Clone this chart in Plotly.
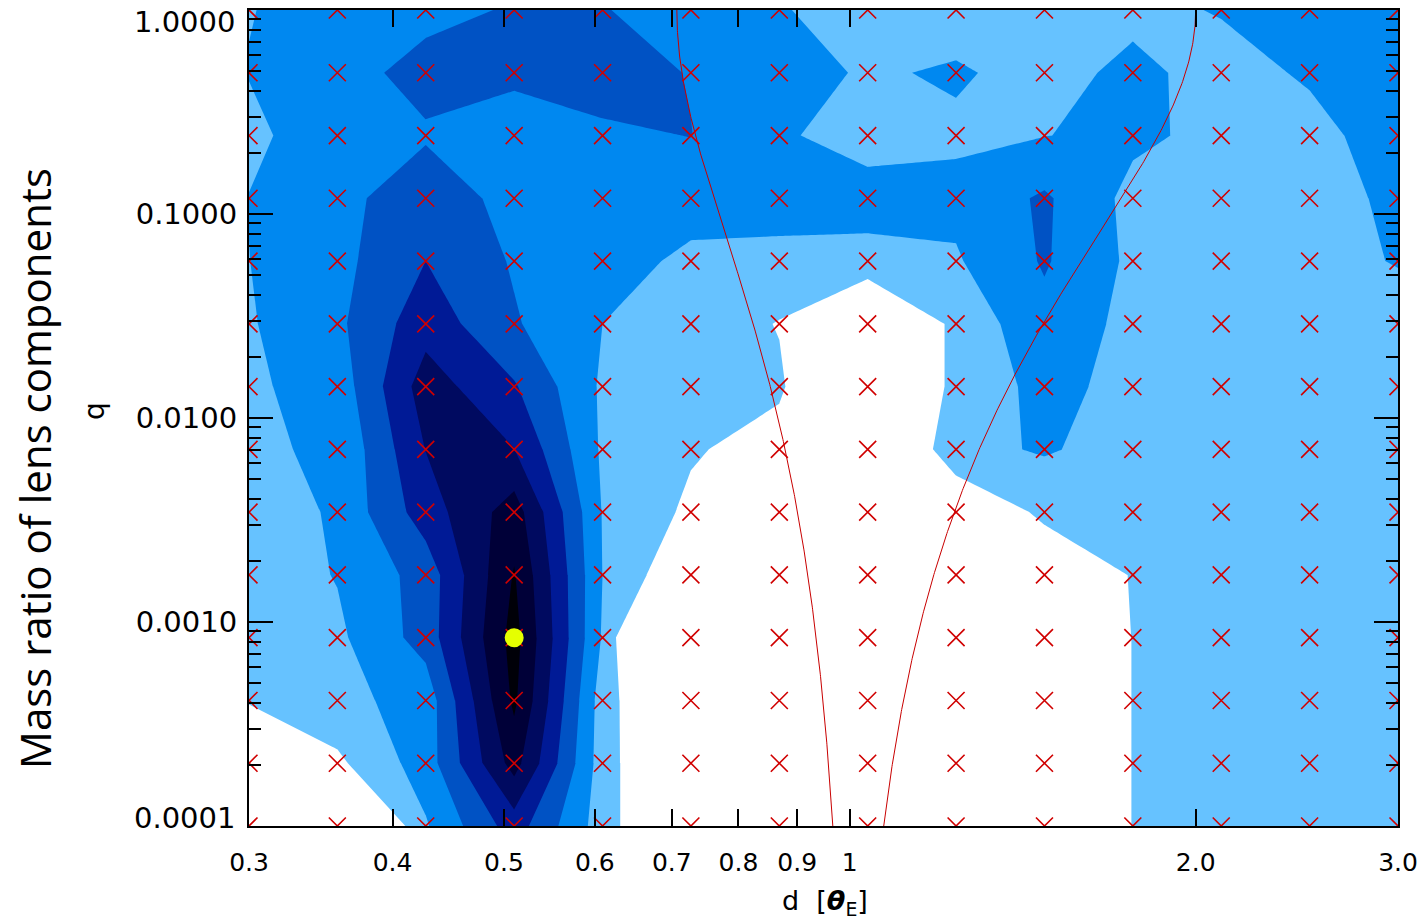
import numpy as np
import plotly.graph_objects as go

# Model grid: lens separation d [theta_E] and mass ratio q
d_grid = [0.3000, 0.3581, 0.4275, 0.5104, 0.6093, 0.7273, 0.8683,
          1.0365, 1.2374, 1.4772, 1.7634, 2.1051, 2.5130, 3.0000]
q_grid = [1.000e-4, 2.031e-4, 4.125e-4, 8.377e-4, 1.701e-3, 3.455e-3, 7.017e-3,
          1.425e-2, 2.894e-2, 5.878e-2, 1.194e-1, 2.424e-1, 4.924e-1, 1.000]

# Significance (sigma) of each grid fit relative to the best fit.
# sigma_rowNN holds the values along d_grid for q = q_grid[NN].
sigma_row00 = [10.0, 10.0, 6.10, 3.50, 6.50, 9.00, 12.0, 12.0, 12.0, 10.0, 6.95, 6.60, 6.50, 6.50]
sigma_row01 = [10.0, 7.20, 5.53, 1.60, 6.50, 9.00, 12.0, 12.0, 12.0, 10.0, 6.95, 6.60, 6.50, 6.50]
sigma_row02 = [6.80, 6.30, 5.60, 0.80, 6.50, 9.10, 12.0, 12.0, 12.0, 10.0, 6.95, 6.60, 6.50, 6.50]
sigma_row03 = [6.70, 6.20, 4.60, 0.60, 6.10, 12.0, 12.0, 12.0, 12.0, 10.0, 6.95, 6.60, 6.50, 6.50]
sigma_row04 = [6.60, 5.95, 4.60, 0.92, 6.00, 8.00, 9.00, 9.00, 9.00, 7.80, 6.95, 6.60, 6.50, 6.50]
sigma_row05 = [6.85, 5.80, 3.50, 1.50, 6.05, 7.20, 9.00, 9.00, 7.98, 6.80, 6.70, 6.60, 6.60, 6.50]
sigma_row06 = [6.10, 5.90, 2.98, 2.98, 6.15, 6.90, 7.40, 9.00, 6.30, 5.90, 6.40, 6.60, 6.60, 6.50]
sigma_row07 = [6.15, 5.60, 2.50, 3.90, 6.15, 6.50, 6.85, 9.00, 6.70, 5.70, 6.30, 6.50, 6.50, 6.40]
sigma_row08 = [6.09, 5.20, 3.40, 4.90, 6.00, 6.40, 7.05, 9.00, 6.70, 5.30, 6.30, 6.50, 6.50, 6.40]
sigma_row09 = [6.01, 5.30, 4.00, 5.10, 5.60, 6.20, 6.30, 6.20, 6.10, 4.90, 6.20, 6.50, 6.30, 5.95]
sigma_row10 = [5.98, 5.40, 4.20, 5.45, 5.60, 5.60, 5.55, 5.75, 5.75, 4.85, 6.30, 6.40, 6.20, 5.90]
sigma_row11 = [6.19, 5.50, 5.14, 5.50, 5.17, 4.98, 5.92, 6.25, 6.15, 6.02, 5.80, 6.27, 6.26, 5.60]
sigma_row12 = [5.97, 5.45, 4.60, 4.80, 4.55, 5.05, 5.65, 6.10, 5.90, 6.30, 5.80, 6.30, 5.90, 5.50]
sigma_row13 = [6.03, 5.68, 5.32, 4.90, 4.95, 5.45, 5.95, 6.30, 6.40, 6.40, 6.20, 5.95, 5.60, 5.50]

# Best-fit model
best_d = [0.5104]
best_q = [8.377e-4]

# Contour levels (1..7 sigma) and the fill colour of each band, darkest first
sigma_levels = [1, 2, 3, 4, 5, 6, 7]
band_colors = ["#000008", "#000038", "#000A60", "#001A96",
               "#0052C4", "#0088F0", "#66C2FF", "#FFFFFF"]

x_tickvals = [0.3, 0.4, 0.5, 0.6, 0.7, 0.8, 0.9, 1.0, 2.0, 3.0]
x_ticktext = ["0.3", "0.4", "0.5", "0.6", "0.7", "0.8", "0.9", "1", "2.0", "3.0"]
y_tickvals = [1e-4, 1e-3, 1e-2, 1e-1, 1.0]
y_ticktext = ["0.0001", "0.0010", "0.0100", "0.1000", "1.0000"]

sigma = np.array([sigma_row00, sigma_row01, sigma_row02, sigma_row03, sigma_row04,
                  sigma_row05, sigma_row06, sigma_row07, sigma_row08, sigma_row09,
                  sigma_row10, sigma_row11, sigma_row12, sigma_row13])

n_band = len(band_colors) - 1
colorscale = [[k / n_band, c] for k, c in enumerate(band_colors)]

# Caustic topology boundaries of a binary lens (close/intermediate and intermediate/wide)
q_curve = np.logspace(-4, 0, 400)
m = q_curve / (1 + q_curve) ** 2
lo = np.full_like(q_curve, 0.3)
hi = np.full_like(q_curve, 1.0)
for _ in range(80):
    mid = 0.5 * (lo + hi)
    f = (1 - mid ** 4) ** 3 / (27 * mid ** 8) - m
    lo = np.where(f > 0, mid, lo)
    hi = np.where(f > 0, hi, mid)
d_close = 0.5 * (lo + hi)
d_wide = np.sqrt((1 + q_curve ** (1 / 3)) ** 3 / (1 + q_curve))

fig = go.Figure()

fig.add_trace(go.Contour(
    x=d_grid, y=q_grid, z=sigma,
    autocontour=False,
    contours=dict(start=sigma_levels[0], end=sigma_levels[-1], size=1,
                  coloring="fill", showlines=False),
    line=dict(width=0, smoothing=0),
    colorscale=colorscale, showscale=False, hoverinfo="skip",
))

for dc in (d_close, d_wide):
    fig.add_trace(go.Scatter(x=dc, y=q_curve, mode="lines",
                             line=dict(color="#C80000", width=1), hoverinfo="skip"))

gx, gy = np.meshgrid(d_grid, q_grid)
fig.add_trace(go.Scatter(
    x=gx.ravel(), y=gy.ravel(), mode="markers",
    marker=dict(symbol="x-thin", size=17, line=dict(color="#D00000", width=1.6)),
    hoverinfo="skip",
))

fig.add_trace(go.Scatter(
    x=best_d, y=best_q, mode="markers",
    marker=dict(size=19, color="#E5FF00", line=dict(width=0)),
    hoverinfo="skip",
))

# invisible carrier for the minor-tick axes
fig.add_trace(go.Scatter(x=[1.0], y=[0.01], xaxis="x2", yaxis="y2", mode="markers",
                         marker=dict(opacity=0), hoverinfo="skip"))

x_minor = [0.4, 0.5, 0.6, 0.7, 0.8, 0.9, 2.0]
y_minor = [k * 10.0 ** e for e in range(-4, 0) for k in range(2, 10)]

xr = [np.log10(0.3), np.log10(3.0)]
yr = [-4, 0]

tick_font_y = dict(family="DejaVu Sans", size=29, color="black")

# the two end labels of the q axis sit just inside the frame, as annotations;
# the inner decades are ordinary tick labels
end_label_shift = {1.0: -12, 1e-4: 8}
y_axis_vals = [v for v in y_tickvals if v not in end_label_shift]
y_axis_text = [t for v, t in zip(y_tickvals, y_ticktext) if v not in end_label_shift]

annotations = [
    dict(text="d  [<b><i>θ</i></b><sub>E</sub>]", xref="paper", yref="paper",
         x=0.501, y=-0.094, xanchor="center", yanchor="middle", showarrow=False,
         font=dict(family="DejaVu Sans", size=27, color="black")),
    dict(text="q", xref="paper", yref="paper", x=-0.134, y=0.5086,
         xanchor="center", yanchor="middle", textangle=-90, showarrow=False,
         font=dict(family="DejaVu Sans", size=28, color="black")),
    dict(text="Mass ratio of lens components", xref="paper", yref="paper",
         x=-0.1862, y=0.4377, xanchor="center", yanchor="middle", textangle=-90,
         showarrow=False, font=dict(family="Open Sans", size=42, color="black")),
]
for v, t in zip(y_tickvals, y_ticktext):
    if v in end_label_shift:
        annotations.append(dict(
            text=t, xref="paper", yref="y", x=0, y=np.log10(v),
            xanchor="right", yanchor="middle", xshift=-12, yshift=end_label_shift[v],
            showarrow=False, font=tick_font_y))

fig.update_layout(
    width=1427, height=922,
    margin=dict(l=249, r=29, t=8, b=96),
    paper_bgcolor="white", plot_bgcolor="white",
    showlegend=False,
    xaxis=dict(type="log", range=xr, tickvals=x_tickvals, ticktext=x_ticktext,
               ticks="inside", ticklen=17, tickwidth=2, tickcolor="black",
               showline=True, linewidth=2, linecolor="black", mirror="ticks",
               showgrid=False, zeroline=False, ticklabelstandoff=13,
               tickfont=dict(family="DejaVu Sans", size=25, color="black")),
    xaxis2=dict(type="log", range=xr, overlaying="x", anchor="y", side="bottom",
                tickvals=x_minor, ticks="inside", ticklen=8, tickwidth=2,
                tickcolor="black", showticklabels=False, mirror="ticks",
                showgrid=False, zeroline=False, showline=False),
    yaxis=dict(type="log", range=yr, tickvals=y_axis_vals, ticktext=y_axis_text,
               ticks="inside", ticklen=24, tickwidth=2, tickcolor="black",
               showline=True, linewidth=2, linecolor="black", mirror="ticks",
               showgrid=False, zeroline=False, ticklabelstandoff=4,
               tickfont=tick_font_y),
    yaxis2=dict(type="log", range=yr, overlaying="y", anchor="x", side="left",
                tickvals=y_minor, ticks="inside", ticklen=12, tickwidth=2,
                tickcolor="black", showticklabels=False, mirror="ticks",
                showgrid=False, zeroline=False, showline=False),
    annotations=annotations,
)

fig.write_html("out.html")
